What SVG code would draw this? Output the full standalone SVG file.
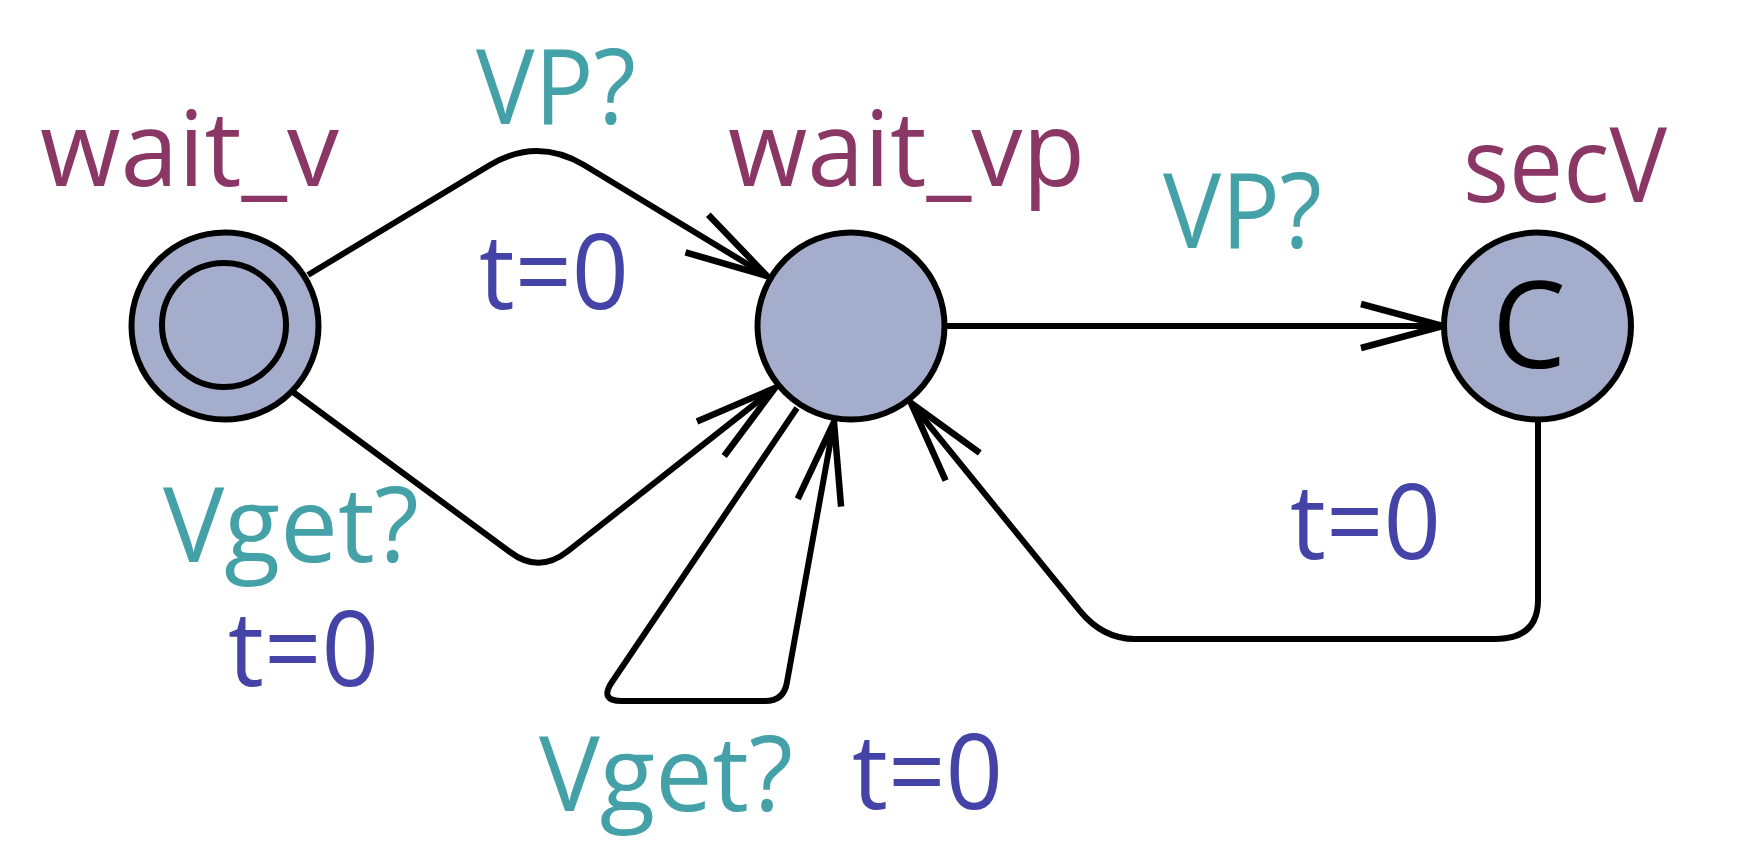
<svg xmlns="http://www.w3.org/2000/svg" width="1751" height="858" viewBox="0 0 1751 858">
<style>
.node{fill:#a4adcb;stroke:#000;stroke-width:6}
.edge{fill:none;stroke:#000;stroke-width:6;stroke-linejoin:round;marker-end:url(#arr)}
text{font-family:"Open Sans","Noto Sans","Liberation Sans",sans-serif;font-size:105px}
.name{fill:#8a3766}
.sync{fill:#44a1a8}
.assign{fill:#4343a8}
.comm{fill:#000;font-size:120px}
</style>
<defs>
<marker id="arr" markerUnits="userSpaceOnUse" viewBox="-95 -30 100 60" refX="0" refY="0" markerWidth="100" markerHeight="60" orient="auto" overflow="visible">
<path d="M-82,-22 L0,0 L-82,22" fill="none" stroke="#000" stroke-width="6.5" stroke-linecap="butt" stroke-linejoin="miter"/>
</marker>
</defs>
<rect width="1751" height="858" fill="#fff"/>
<g id="connectors">
<path class="edge" d="M308,275 L490,165 Q537,137 584,165 L767,276"/>
<path class="edge" d="M293,392 L510,552 Q539,574 568,551 L775,388"/>
<path class="edge" d="M947,326 L1443,326"/>
<path class="edge" d="M797,408 L612,682 Q599,701 622,701 L765,701 Q784,701 787,682 L834,422"/>
<path class="edge" d="M1538,419 L1538,600 Q1538,639 1495,639 L1135,639 Q1103,639 1080,611 L911,403"/>
</g>
<g id="wait_v">
<circle class="node" cx="225" cy="326" r="93.5"/>
<circle class="node" cx="224" cy="325" r="62"/>
<text class="name" x="40" y="186" textLength="299" lengthAdjust="spacingAndGlyphs">wait_v</text>
</g>
<g id="wait_vp">
<circle class="node" cx="851" cy="326" r="93.5"/>
<text class="name" x="728" y="186" textLength="357" lengthAdjust="spacingAndGlyphs">wait_vp</text>
</g>
<g id="secV">
<circle class="node" cx="1537.5" cy="326" r="93.5"/>
<text class="comm" x="1492" y="368" textLength="74" lengthAdjust="spacingAndGlyphs">C</text>
<text class="name" x="1463" y="202" textLength="204" lengthAdjust="spacingAndGlyphs">secV</text>
</g>
<g id="labels">
<text class="sync" x="476" y="124" textLength="160" lengthAdjust="spacingAndGlyphs">VP?</text>
<text class="assign" x="479" y="309" textLength="150" lengthAdjust="spacingAndGlyphs">t=0</text>
<text class="sync" x="1163" y="248" textLength="159" lengthAdjust="spacingAndGlyphs">VP?</text>
<text class="assign" x="1290" y="559" textLength="151" lengthAdjust="spacingAndGlyphs">t=0</text>
<text class="sync" x="163" y="562" textLength="256" lengthAdjust="spacingAndGlyphs">Vget?</text>
<text class="assign" x="228" y="686" textLength="151" lengthAdjust="spacingAndGlyphs">t=0</text>
<text class="sync" x="539" y="811" textLength="254" lengthAdjust="spacingAndGlyphs">Vget?</text>
<text class="assign" x="852" y="809" textLength="151" lengthAdjust="spacingAndGlyphs">t=0</text>
</g>
</svg>
